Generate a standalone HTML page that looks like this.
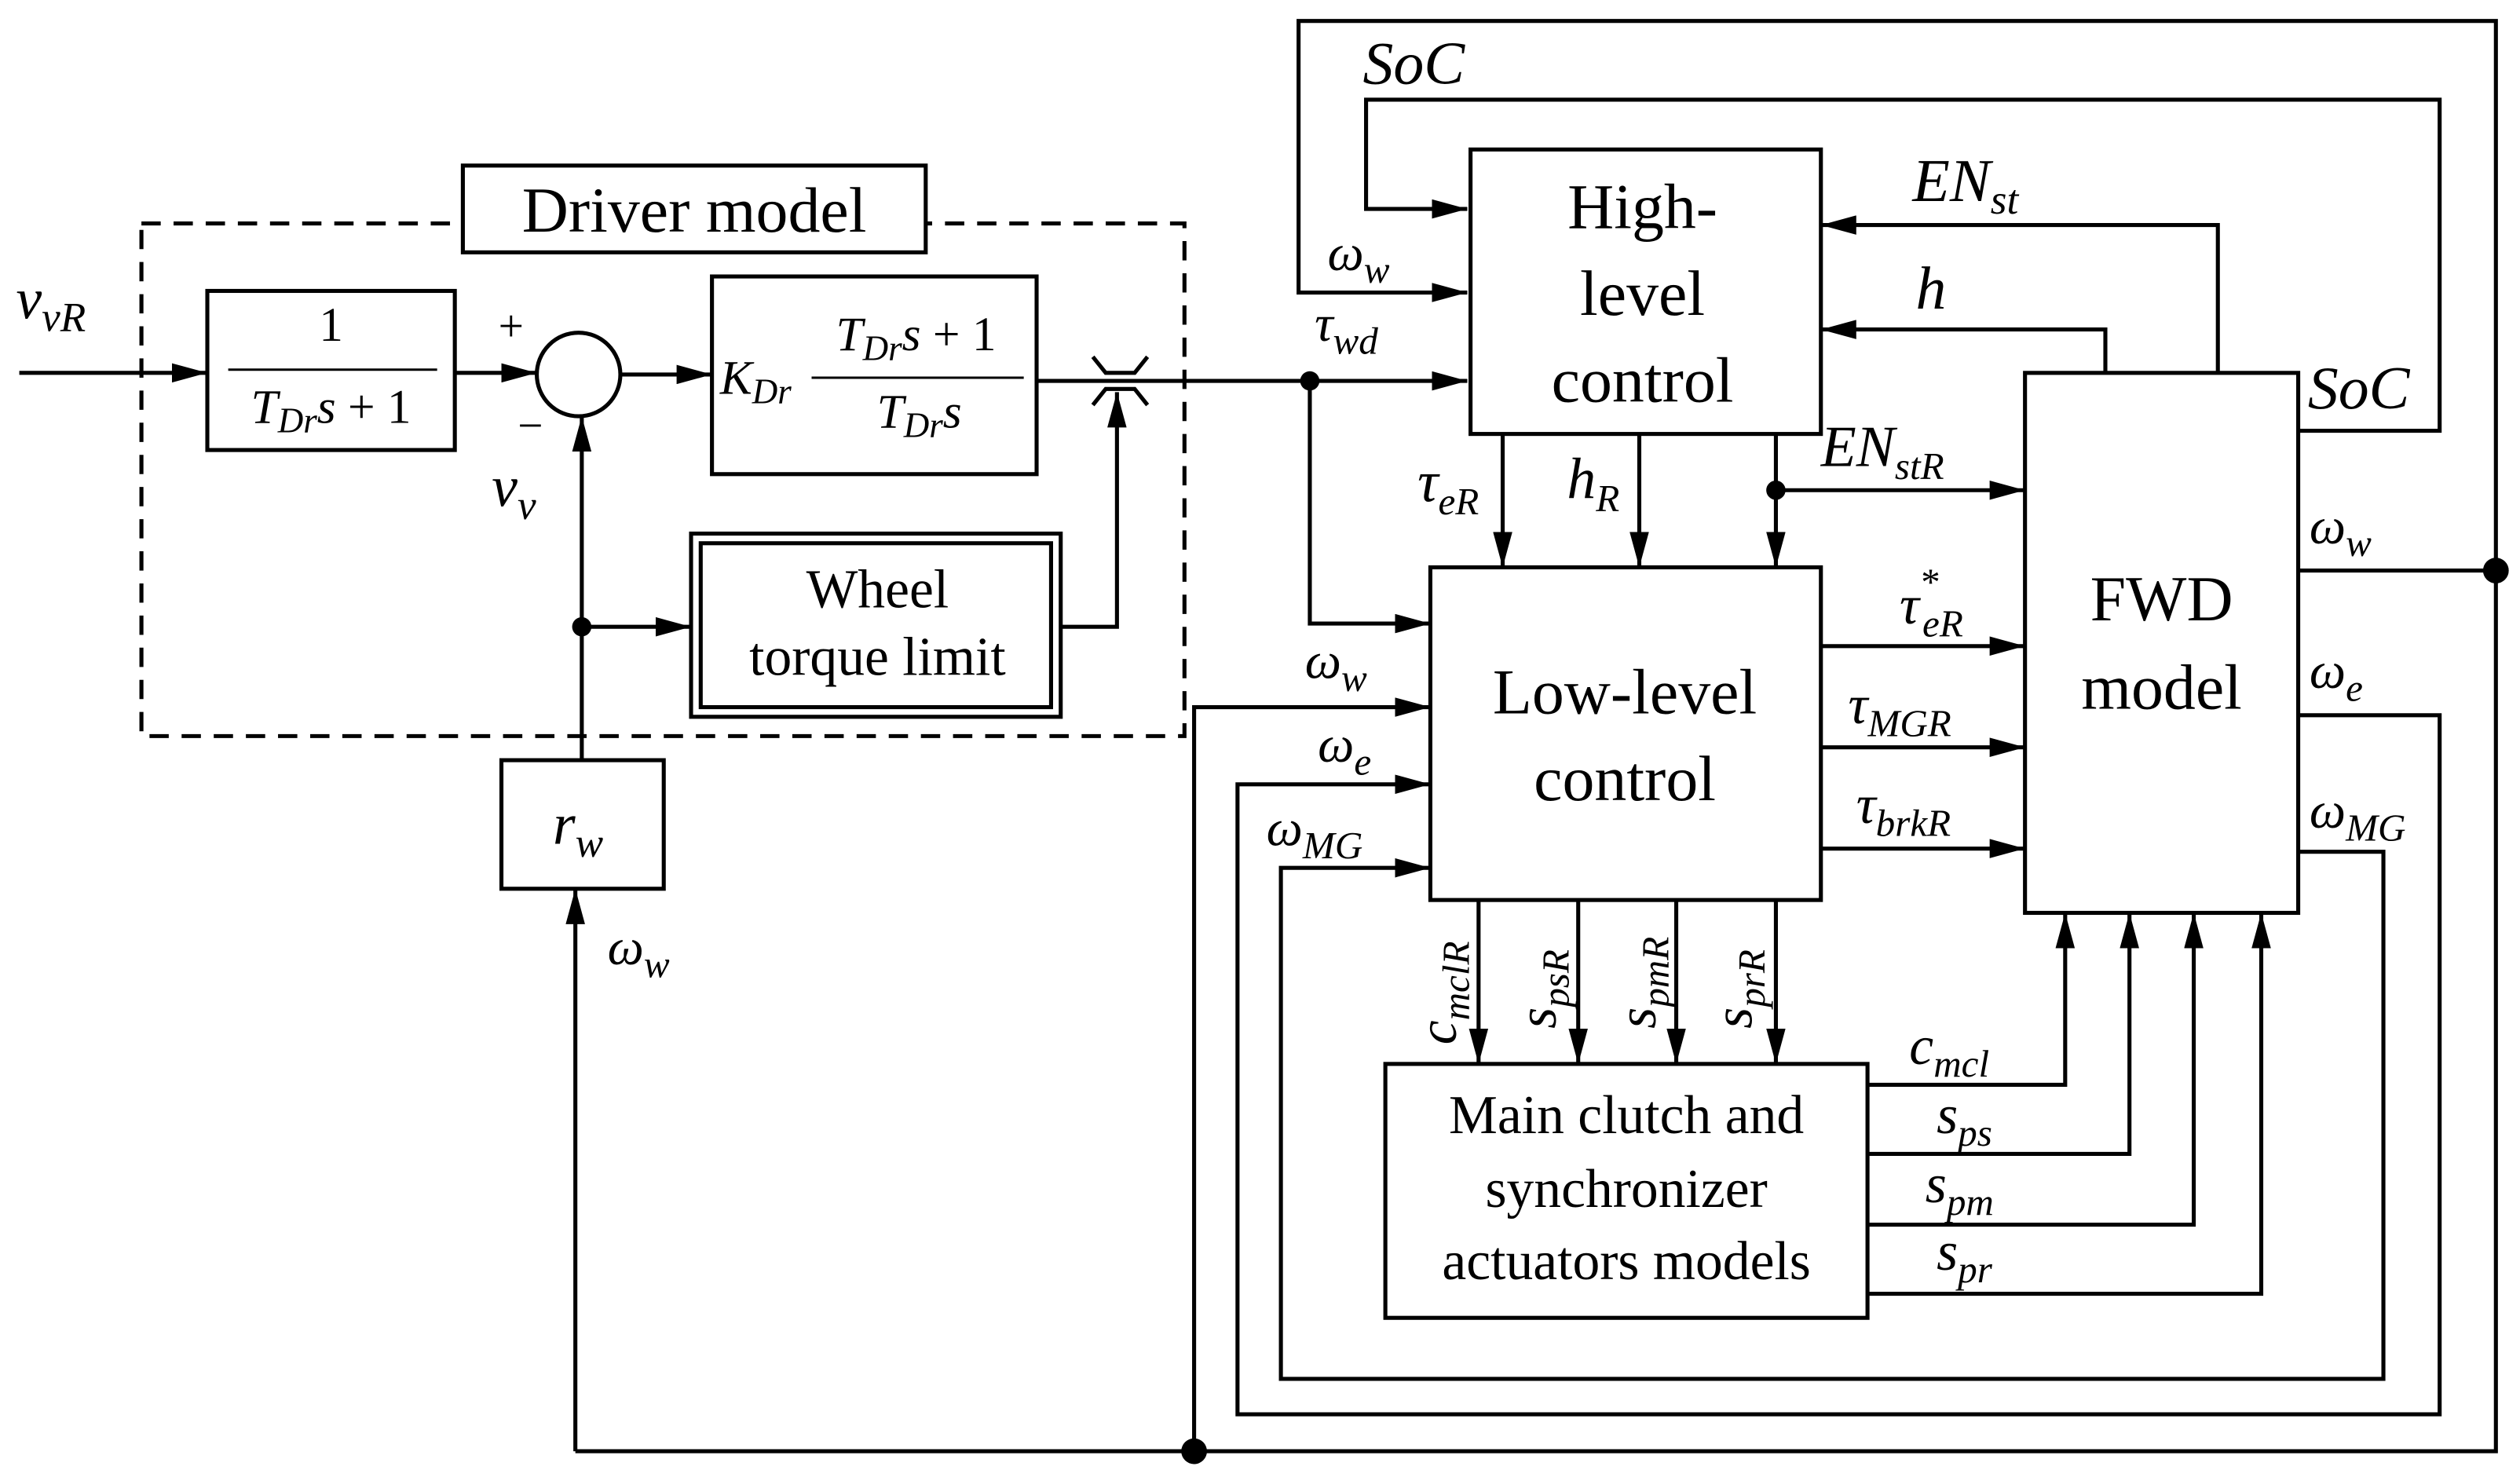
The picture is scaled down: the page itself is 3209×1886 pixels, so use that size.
<!DOCTYPE html>
<html><head><meta charset="utf-8"><style>html,body{margin:0;padding:0;background:#fff}svg{display:block}</style></head>
<body>
<svg width="3209" height="1886" viewBox="0 0 1568 921.5" xmlns="http://www.w3.org/2000/svg" font-family="Liberation Serif, serif">
<defs><marker id="a" markerWidth="10" markerHeight="8" refX="10" refY="4" orient="auto" markerUnits="userSpaceOnUse"><path d="M0,0 L22,4 L0,8 z" transform="scale(1)" fill="#000"/></marker>
<marker id="b" viewBox="0 0 22 12" markerWidth="22" markerHeight="12" refX="22" refY="6" orient="auto" markerUnits="userSpaceOnUse"><path d="M0,0 L22,6 L0,12 z" fill="#000"/></marker></defs>
<g stroke="#000" stroke-width="2.5" fill="none">
<rect x="88" y="139" width="649" height="319" stroke-dasharray="12,8"/>
<rect x="288" y="103" width="288" height="54" fill="#fff"/>
<rect x="129" y="181" width="154" height="99"/>
<circle cx="360" cy="233" r="26"/>
<rect x="443" y="172" width="202" height="123"/>
<rect x="430" y="332" width="230" height="114"/><rect x="436" y="338" width="218" height="102"/>
<rect x="312" y="473" width="101" height="80"/>
<rect x="915" y="93" width="218" height="177"/>
<rect x="890" y="353" width="243" height="207"/>
<rect x="1260" y="232" width="170" height="336"/>
<rect x="862" y="662" width="300" height="158"/>
<line x1="142" y1="230" x2="272" y2="230" stroke-width="1.5"/>
<line x1="505" y1="235" x2="637" y2="235" stroke-width="1.5"/>
</g>
<g stroke="#000" stroke-width="2.5" fill="none" marker-end="url(#b)">
<path d="M12 232 H129"/>
<path d="M283 232 H334"/>
<path d="M386 233 H443"/>
<path d="M362 473 V259"/>
<path d="M362 390 H430"/>
<path d="M660 390 H695 V244"/>
<path d="M358 903 V553"/>
<path d="M645 237 H913"/>
<path d="M815 237 V388 H890"/>
<path d="M743 903 V440 H890"/>
<path d="M1553 355 V903 H743" marker-end="none"/>
<path d="M1430 355 H1553 V13 H808 V182 H913"/>
<path d="M1430 268 H1518 V62 H850 V130 H913"/>
<path d="M1380 232 V140 H1133"/>
<path d="M1310 232 V205 H1133"/>
<path d="M935 270 V353"/><path d="M1020 270 V353"/><path d="M1105 270 V353"/>
<path d="M1105 305 H1260"/>
<path d="M1133 402 H1260"/><path d="M1133 465 H1260"/><path d="M1133 528 H1260"/>
<path d="M1430 445 H1518 V880 H770 V488 H890"/>
<path d="M1430 530 H1483 V858 H797 V540 H890"/>
<path d="M920 560 V662"/><path d="M982 560 V662"/><path d="M1043 560 V662"/><path d="M1105 560 V662"/>
<path d="M1162 675 H1285 V568"/><path d="M1162 718 H1325 V568"/><path d="M1162 762 H1365 V568"/><path d="M1162 805 H1407 V568"/>
</g>
<path d="M358 903 H743" stroke="#000" stroke-width="2.5"/>
<g fill="#000"><circle cx="815" cy="237" r="6"/><circle cx="362" cy="390" r="6"/><circle cx="743" cy="903" r="8"/><circle cx="1553" cy="355" r="8"/><circle cx="1105" cy="305" r="6"/></g>
<g stroke="#000" stroke-width="2.5" fill="none"><path d="M680 222 L688 232 H706 L714 222"/><path d="M680 252 L688 242 H706 L714 252"/></g>
<g font-size="34" fill="#000">
<text x="432" y="144" text-anchor="middle" font-size="40">Driver model</text>
<text x="206" y="212" text-anchor="middle" font-size="30">1</text>
<text x="206" y="263" text-anchor="middle" font-size="30"><tspan font-style="italic">T</tspan><tspan font-size="22" font-style="italic" dy="6">Dr</tspan><tspan font-style="italic" dy="-6">s</tspan> + 1</text>
<text x="448" y="245" font-size="30" font-style="italic">K<tspan font-size="22" dy="6">Dr</tspan></text>
<text x="570" y="218" text-anchor="middle" font-size="30"><tspan font-style="italic">T</tspan><tspan font-size="22" font-style="italic" dy="6">Dr</tspan><tspan font-style="italic" dy="-6">s</tspan> + 1</text>
<text x="572" y="266" text-anchor="middle" font-size="30" font-style="italic">T<tspan font-size="22" dy="6">Dr</tspan><tspan dy="-6">s</tspan></text>
<text x="318" y="212" text-anchor="middle" font-size="28">+</text>
<text x="330" y="274" text-anchor="middle" font-size="28">−</text>
<text x="10" y="198" font-style="italic" font-size="36">v<tspan font-size="26" dy="8">vR</tspan></text>
<text x="306" y="315" font-style="italic" font-size="36">v<tspan font-size="26" dy="8">v</tspan></text>
<text x="546" y="378" text-anchor="middle">Wheel</text>
<text x="546" y="420" text-anchor="middle">torque limit</text>
<text x="344" y="525" font-style="italic" font-size="36">r<tspan font-size="26" dy="8">w</tspan></text>
<text x="378" y="600" font-style="italic" font-size="32">ω<tspan font-size="24" dy="8">w</tspan></text>
<text x="1022" y="142" text-anchor="middle" font-size="40">High-</text>
<text x="1022" y="196" text-anchor="middle" font-size="40">level</text>
<text x="1022" y="250" text-anchor="middle" font-size="40">control</text>
<text x="1011" y="444" text-anchor="middle" font-size="40">Low-level</text>
<text x="1011" y="498" text-anchor="middle" font-size="40">control</text>
<text x="1345" y="386" text-anchor="middle" font-size="40">FWD</text>
<text x="1345" y="441" text-anchor="middle" font-size="40">model</text>
<text x="1012" y="705" text-anchor="middle">Main clutch and</text>
<text x="1012" y="751" text-anchor="middle">synchronizer</text>
<text x="1012" y="796" text-anchor="middle">actuators models</text>
<g font-style="italic">
<text x="848" y="52" font-size="38">SoC</text>
<text x="1436" y="254" font-size="38">SoC</text>
<text x="826" y="168" font-size="32">ω<tspan font-size="24" dy="8">w</tspan></text>
<text x="818" y="212" font-size="32">τ<tspan font-size="24" dy="8">wd</tspan></text>
<text x="1190" y="125" font-size="38">EN<tspan font-size="26" dy="8">st</tspan></text>
<text x="1192" y="192" font-size="38">h</text>
<text x="1133" y="290" font-size="36">EN<tspan font-size="24" dy="8">stR</tspan></text>
<text x="882" y="312" font-size="36">τ<tspan font-size="24" dy="8">eR</tspan></text>
<text x="975" y="310" font-size="36">h<tspan font-size="24" dy="8">R</tspan></text>
<text x="1182" y="388" font-size="34">τ<tspan font-size="24" dy="-18">*</tspan><tspan font-size="24" dy="26" dx="-10">eR</tspan></text>
<text x="1150" y="450" font-size="34">τ<tspan font-size="24" dy="8">MGR</tspan></text>
<text x="1155" y="512" font-size="34">τ<tspan font-size="24" dy="8">brkR</tspan></text>
<text x="1437" y="338" font-size="32">ω<tspan font-size="24" dy="8">w</tspan></text>
<text x="1437" y="428" font-size="32">ω<tspan font-size="24" dy="8">e</tspan></text>
<text x="1437" y="515" font-size="32">ω<tspan font-size="24" dy="8">MG</tspan></text>
<text x="812" y="422" font-size="32">ω<tspan font-size="24" dy="8">w</tspan></text>
<text x="820" y="474" font-size="32">ω<tspan font-size="24" dy="8">e</tspan></text>
<text x="788" y="526" font-size="32">ω<tspan font-size="24" dy="8">MG</tspan></text>
<text x="1188" y="662" font-size="34">c<tspan font-size="24" dy="8">mcl</tspan></text>
<text x="1205" y="705" font-size="34">s<tspan font-size="24" dy="8">ps</tspan></text>
<text x="1198" y="748" font-size="34">s<tspan font-size="24" dy="8">pm</tspan></text>
<text x="1205" y="790" font-size="34">s<tspan font-size="24" dy="8">pr</tspan></text>
<text transform="translate(906,650) rotate(-90)" font-size="34">c<tspan font-size="24" dy="8">mclR</tspan></text>
<text transform="translate(968,640) rotate(-90)" font-size="34">s<tspan font-size="24" dy="8">psR</tspan></text>
<text transform="translate(1030,640) rotate(-90)" font-size="34">s<tspan font-size="24" dy="8">pmR</tspan></text>
<text transform="translate(1090,640) rotate(-90)" font-size="34">s<tspan font-size="24" dy="8">prR</tspan></text>
</g></g>
</svg>
</body></html>
